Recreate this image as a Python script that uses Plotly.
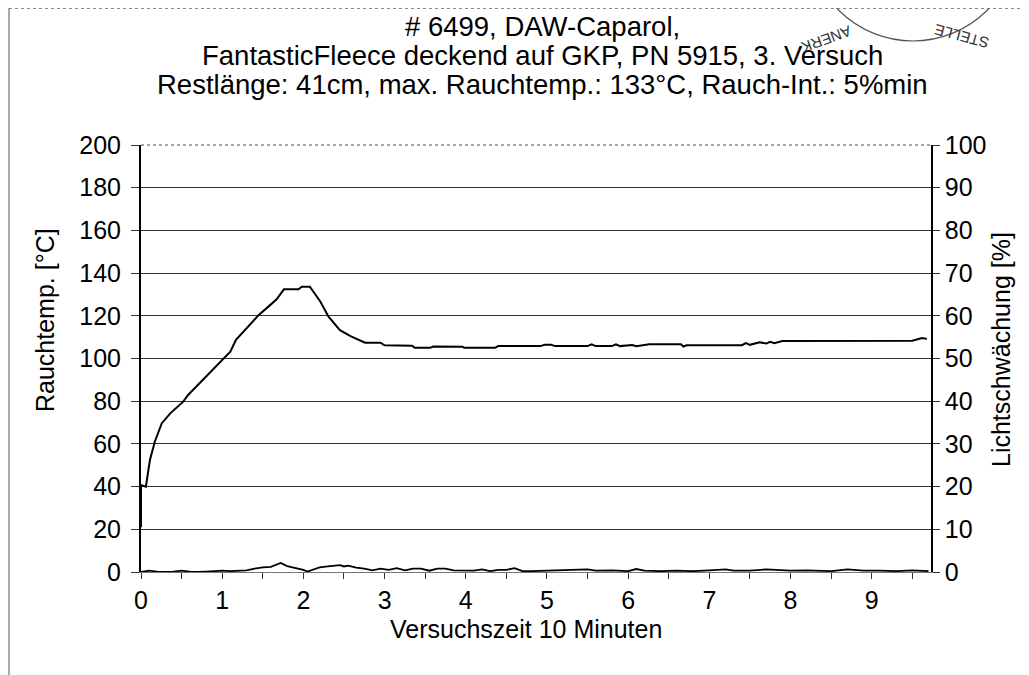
import plotly.graph_objects as go

# --- data ---
time_temp = [0.0, 0.0, 0.06, 0.11, 0.17, 0.255, 0.36, 0.52, 0.58, 0.71, 0.81, 0.95, 1.10, 1.17,
             1.28, 1.45, 1.59, 1.67, 1.76, 1.94, 1.98, 2.08, 2.21, 2.31, 2.45, 2.58, 2.76, 2.95,
             3.0, 3.34, 3.37, 3.56, 3.6, 3.96, 3.98, 4.36, 4.4, 4.92, 4.97, 5.05, 5.1, 5.5, 5.55,
             5.6, 5.8, 5.85, 5.9, 6.05, 6.1, 6.2, 6.26, 6.65, 6.68, 6.72, 7.4, 7.45, 7.5, 7.62,
             7.7, 7.75, 7.8, 7.9, 9.4, 9.5, 9.62, 9.68]
temp = [21, 40.7, 40, 52.5, 61, 69.6, 74.3, 79.8, 82.9, 88, 92.3, 97.7, 103.2, 108.7,
        113.3, 120.4, 125, 127.7, 132.4, 132.4, 133.6, 133.6, 126.6, 119.6, 113.3, 110.5, 107.4, 107.4,
        106.2, 106.0, 105.0, 105.0, 105.6, 105.5, 105.0, 105.0, 105.8, 105.8, 106.4, 106.4, 105.8, 105.8, 106.6,
        105.8, 105.8, 106.6, 105.8, 106.3, 105.8, 106.4, 106.7, 106.7, 105.6, 106.2, 106.2, 107.2, 106.4, 107.6,
        107.0, 107.8, 107.2, 108.2, 108.3, 108.3, 109.6, 109.2]

time_light = [0, 0.1, 0.2, 0.3, 0.4, 0.5, 0.6, 0.7, 0.8, 0.9, 1.0, 1.1, 1.2, 1.3, 1.4, 1.5, 1.6,
              1.65, 1.72, 1.8, 1.9, 2.0, 2.05, 2.12, 2.2, 2.3, 2.4, 2.45, 2.5, 2.55, 2.65, 2.75,
              2.85, 2.95, 3.05, 3.15, 3.25, 3.35, 3.45, 3.55, 3.65, 3.75, 3.85, 3.95, 4.1, 4.2,
              4.3, 4.4, 4.5, 4.6, 4.7, 4.8, 5.0, 5.2, 5.4, 5.5, 5.6, 5.8, 6.0, 6.1, 6.2, 6.4,
              6.6, 6.8, 7.0, 7.2, 7.3, 7.5, 7.7, 7.8, 8.0, 8.2, 8.5, 8.7, 8.9, 9.1, 9.3, 9.5,
              9.6, 9.7]
light = [0, 0.3, 0.1, 0, 0.1, 0.3, 0.1, 0, 0.1, 0.2, 0.3, 0.2, 0.3, 0.4, 0.8, 1.1, 1.2,
         1.5, 2.1, 1.4, 1.0, 0.5, 0.1, 0.6, 1.1, 1.3, 1.4, 1.6, 1.3, 1.5, 1.0, 0.8,
         0.4, 0.8, 0.5, 0.9, 0.4, 0.8, 0.8, 0.3, 0.8, 0.8, 0.4, 0.3, 0.3, 0.6,
         0.2, 0.5, 0.5, 0.9, 0.2, 0.2, 0.3, 0.3, 0.5, 0.6, 0.3, 0.4, 0.2, 0.7, 0.3, 0.2,
         0.3, 0.2, 0.4, 0.6, 0.3, 0.3, 0.6, 0.5, 0.3, 0.4, 0.2, 0.6, 0.3, 0.3, 0.2, 0.4,
         0.3, 0.2]

x_ticks = [0, 1, 2, 3, 4, 5, 6, 7, 8, 9]
y_left_ticks = list(range(0, 201, 20))
y_right_ticks = list(range(0, 101, 10))

title_lines = ["# 6499, DAW-Caparol,",
               "FantasticFleece deckend auf GKP, PN 5915, 3. Versuch",
               "Restlänge: 41cm, max. Rauchtemp.: 133°C, Rauch-Int.: 5%min"]
x_title = "Versuchszeit 10 Minuten"
y_title = "Rauchtemp. [°C]"
y2_title = "Lichtschwächung [%]"
stamp_texts = ["ANERK", "STELLE"]

FONT = "Liberation Sans, Arial, sans-serif"

# figure geometry (page has an 8px body margin)
W, H = 1021, 667
L, T, PW, PH = 133, 137, 790, 427
R, B = W - L - PW, H - T - PH


def px(xf):
    return (xf - L) / PW


def py(yf):
    return (T + PH - yf) / PH


fig = go.Figure()
fig.add_trace(go.Scatter(x=time_temp, y=temp, mode="lines",
                         line=dict(color="black", width=2), showlegend=False, yaxis="y"))
fig.add_trace(go.Scatter(x=time_light, y=light, mode="lines",
                         line=dict(color="black", width=1.8), showlegend=False, yaxis="y2"))

fig.update_layout(
    width=W, height=H,
    margin=dict(l=L, r=R, t=T, b=B),
    paper_bgcolor="white", plot_bgcolor="white",
    font=dict(family=FONT, size=25, color="black"),
    xaxis=dict(range=[0, 9.73], tickvals=x_ticks, ticktext=[str(v) for v in x_ticks],
               ticks="outside", ticklen=6, tickcolor="#333", tickwidth=1,
               minor=dict(dtick=0.5, tick0=0, ticks="outside", ticklen=6, tickcolor="#333"),
               showgrid=False, zeroline=False, showline=True, linecolor="#777", linewidth=1,
               tickfont=dict(size=25), ticklabelstandoff=0),
    yaxis=dict(range=[0, 200], tickvals=y_left_ticks, ticks="outside", ticklen=8,
               tickcolor="#333", showgrid=True, gridcolor="#333", gridwidth=1,
               zeroline=False, showline=True, linecolor="black", linewidth=2,
               tickfont=dict(size=25), ticklabelstandoff=5),
    yaxis2=dict(range=[0, 100], tickvals=y_right_ticks, overlaying="y", side="right",
                ticks="outside", ticklen=7, tickcolor="#333", showgrid=False,
                zeroline=False, showline=True, linecolor="black", linewidth=1.5,
                tickfont=dict(size=25), ticklabelstandoff=0),
)

# title lines
for yf, txt in zip([19, 47, 76], title_lines):
    fig.add_annotation(text=txt, xref="paper", yref="paper", x=px(534), y=py(yf),
                       xanchor="center", yanchor="middle", showarrow=False,
                       font=dict(family=FONT, size=27.5, color="black"))

# axis titles
fig.add_annotation(text=x_title, xref="paper", yref="paper", x=px(518), y=py(621),
                   xanchor="center", yanchor="middle", showarrow=False,
                   font=dict(family=FONT, size=25, color="black"))
fig.add_annotation(text=y_title, xref="paper", yref="paper", x=px(37), y=py(312),
                   xanchor="center", yanchor="middle", showarrow=False, textangle=-90,
                   font=dict(family=FONT, size=25, color="black"))
fig.add_annotation(text=y2_title, xref="paper", yref="paper", x=px(993), y=py(342),
                   xanchor="center", yanchor="middle", showarrow=False, textangle=-90,
                   font=dict(family=FONT, size=25, color="black"))

# top border of plot area (dotted grey) and the scan frame
fig.add_shape(type="line", xref="paper", yref="paper", x0=0, x1=1, y0=1, y1=1,
              line=dict(color="#888", width=1.5, dash="dot"))
fig.add_shape(type="line", xref="paper", yref="paper", x0=px(1), x1=px(1), y0=py(H), y1=py(0),
              line=dict(color="#555", width=1))
fig.add_shape(type="line", xref="paper", yref="paper", x0=px(1), x1=px(W), y0=py(0.5), y1=py(0.5),
              line=dict(color="#888", width=1, dash="dot"))

# stamp remnant at the top right
fig.add_shape(type="circle", xref="paper", yref="paper", xsizemode="pixel", ysizemode="pixel",
              xanchor=px(905), yanchor=py(-72), x0=-105, x1=105, y0=-105, y1=105,
              line=dict(color="#555", width=1.2))
fig.add_annotation(text=stamp_texts[0], xref="paper", yref="paper", x=px(848), y=py(12),
                   showarrow=False, textangle=160, font=dict(family=FONT, size=15, color="#333"))
fig.add_annotation(text=stamp_texts[1], xref="paper", yref="paper", x=px(985), y=py(10),
                   showarrow=False, textangle=195, font=dict(family=FONT, size=15, color="#333"))

fig.write_html("out.html")
